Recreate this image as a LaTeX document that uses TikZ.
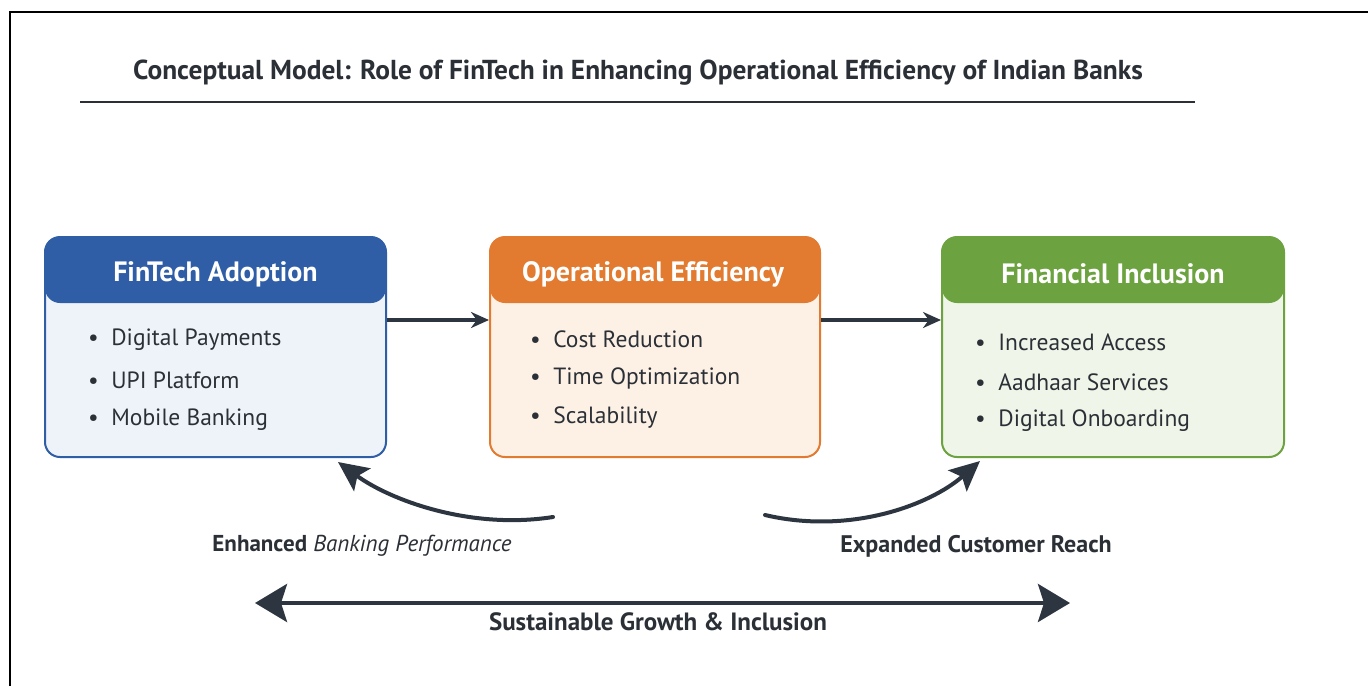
\documentclass[tikz,border=0pt]{standalone}
\usepackage{fontspec}
\setmainfont{PT Sans}
\usetikzlibrary{calc,arrows.meta}

\definecolor{ink}{HTML}{2B2F36}
\definecolor{arrowc}{HTML}{2C3540}
\definecolor{bluehd}{HTML}{2F5DA6}
\definecolor{bluebd}{HTML}{EEF3FA}
\definecolor{orghd}{HTML}{E27A30}
\definecolor{orgbd}{HTML}{FDF1E6}
\definecolor{grnhd}{HTML}{6CA23F}
\definecolor{grnbd}{HTML}{EFF6E9}

\tikzset{
  panel/.style args={#1/#2/#3}{draw=#1, fill=#2, line width=2pt, rounded corners=15pt,
    minimum height=220pt, minimum width=#3, inner sep=0pt,
    path picture={\fill[#1] (path picture bounding box.north west) rectangle
      ([yshift=-66pt]path picture bounding box.north east);}},
  heading/.style={text=white, font=\bfseries\fontsize{28}{32}\selectfont},
  item/.style={text=ink, anchor=west, inner sep=0pt, font=\fontsize{23.5}{27}\selectfont},
  flow/.style={draw=arrowc, line width=3.5pt, -{Stealth[length=18pt,width=16pt]}},
  swoop/.style={draw=arrowc, line width=4pt, line cap=round, -{Stealth[length=30pt,width=28pt,inset=6pt]}},
  caption/.style={text=ink, font=\fontsize{23}{27}\selectfont},
}

\begin{document}
\begin{tikzpicture}[x=1pt, y=-1pt]
  \useasboundingbox (0,0) rectangle (1368,686);
  \fill[white] (0,0) rectangle (1368,686);

  % outer frame (top and left edges)
  \draw[black, line width=2pt] (10,686) -- (10,12) -- (1368,12);

  % title and rule
  \node[text=ink, font=\bfseries\fontsize{27.4}{32}\selectfont] (title) at (638,73)
    {Conceptual Model: Role of FinTech in Enhancing Operational Efficiency of Indian Banks};
  \draw[ink, line width=1.6pt] (80,102) -- (1195,102);

  % three panels
  \node[panel={bluehd/bluebd/341pt}] (fin) at (215.5,347) {};
  \node[panel={orghd/orgbd/330pt}] (ops) at (655,347) {};
  \node[panel={grnhd/grnbd/342pt}] (inc) at (1113,347) {};

  \node[heading] (finhd) at (215.5,274) {FinTech Adoption};
  \node[heading] (opshd) at (653,274) {Operational Efficiency};
  \node[heading] (inchd) at (1113,274) {Financial Inclusion};

  \node[item] (fin1) at (88,340) {\textbullet\ \ Digital Payments};
  \node[item] (fin2) at (88,380) {\textbullet\ \ UPI Platform};
  \node[item] (fin3) at (88,420) {\textbullet\ \ Mobile Banking};

  \node[item] (ops1) at (530,339) {\textbullet\ \ Cost Reduction};
  \node[item] (ops2) at (530,378) {\textbullet\ \ Time Optimization};
  \node[item] (ops3) at (530,418) {\textbullet\ \ Scalability};

  \node[item] (inc1) at (975,342) {\textbullet\ \ Increased Access};
  \node[item] (inc2) at (975,382) {\textbullet\ \ Aadhaar Services};
  \node[item] (inc3) at (975,421) {\textbullet\ \ Digital Onboarding};

  % straight flow arrows between panels
  \draw[flow] ([yshift=27pt]fin.east) -- ([yshift=27pt]ops.west);
  \draw[flow] ([yshift=27pt]ops.east) -- ([yshift=27pt]inc.west);

  % curved feedback arrows
  \coordinate (lstart) at (553,517);
  \coordinate (lend) at (338,462);
  \coordinate (rstart) at (765,515);
  \coordinate (rend) at (980,461);
  \draw[swoop] (lstart) .. controls (470,530) and (390,500) .. (lend);
  \draw[swoop] (rstart) .. controls (850,535) and (930,505) .. (rend);

  \node[caption] (perf) at (362,546) {\textbf{Enhanced} \textit{Banking Performance}};
  \node[caption, font=\bfseries\fontsize{24}{28}\selectfont] (reach) at (976,546) {Expanded Customer Reach};

  % bottom two-headed arrow
  \coordinate (gl) at (255,603);
  \coordinate (gr) at (1070,603);
  \draw[draw=arrowc, line width=4pt,
    {Stealth[length=32pt,width=38pt,inset=6pt]}-{Stealth[length=32pt,width=38pt,inset=6pt]}] (gl) -- (gr);
  \node[caption, font=\bfseries\fontsize{25}{29}\selectfont] (growth) at (658,622) {Sustainable Growth \& Inclusion};
\end{tikzpicture}
\end{document}
